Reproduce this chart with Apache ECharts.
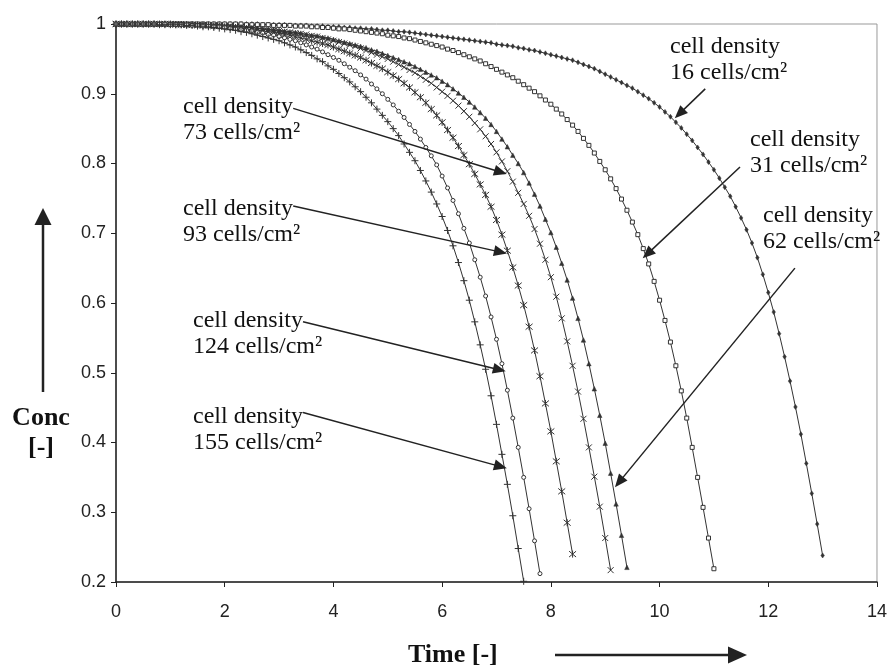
<!DOCTYPE html>
<html><head><meta charset="utf-8">
<script src="https://cdn.jsdelivr.net/npm/echarts@6/dist/echarts.min.js"></script>
<style>html,body{margin:0;padding:0;background:#fff}#c{width:890px;height:666px}</style>
</head><body><div id="c"></div>
<script>
// sampling grid of the model output (time step between successive points)
const timeStep = 0.1;

// Concentration [-], one value per time step starting at t = 0
const conc16 = [1,1,1,1,1,1,1,1,1,1,1,1,1,1,1,1,1,1,1,1,1,1,1,1,1,1,1,
0.999,0.999,0.999,0.999,
0.999,0.998,0.998,0.998,0.998,0.997,0.997,0.997,0.996,0.996,
0.996,0.995,0.995,0.994,0.994,0.993,0.993,0.992,0.991,0.991,
0.990,0.989,0.989,0.988,0.987,0.986,0.985,0.984,0.983,0.982,
0.981,0.980,0.979,0.978,0.977,0.976,0.975,0.974,0.973,0.971,
0.970,0.969,0.968,0.966,0.965,0.963,0.962,0.960,0.958,0.956,
0.954,0.952,0.950,0.948,0.945,0.942,0.939,0.936,0.932,0.928,
0.924,0.920,0.916,0.912,0.908,0.903,0.898,0.893,0.887,0.881,
0.874,0.867,0.859,0.851,0.842,0.833,0.823,0.813,0.802,0.791,
0.779,0.766,0.753,0.738,0.722,0.705,0.686,0.665,0.641,0.615,
0.587,0.556,0.523,0.488,0.451,0.412,0.370,0.327,0.283,0.238];

const conc31 = [1,1,1,1,1,1,1,1,1,1,1,1,1,1,1,1,1,1,1,1,1,1,1,1,
0.999,0.999,0.999,0.999,0.999,0.998,0.998,
0.998,0.998,0.997,0.997,0.997,0.996,0.996,0.995,0.995,0.994,
0.993,0.993,0.992,0.991,0.990,0.989,0.988,0.987,0.986,0.984,
0.983,0.982,0.980,0.979,0.977,0.975,0.973,0.971,0.969,0.967,
0.964,0.962,0.959,0.956,0.953,0.950,0.947,0.943,0.939,0.935,
0.931,0.927,0.923,0.918,0.913,0.908,0.903,0.897,0.891,0.885,
0.878,0.871,0.863,0.855,0.846,0.836,0.826,0.815,0.803,0.791,
0.778,0.764,0.749,0.733,0.716,0.698,0.678,0.656,0.631,0.604,
0.575,0.544,0.510,0.474,0.435,0.393,0.350,0.307,0.263,0.219];

const conc62 = [1,1,1,1,1,1,1,1,1,1,1,1,1,
0.999,0.999,0.999,0.999,0.998,0.998,0.998,0.997,
0.997,0.996,0.996,0.995,0.995,0.994,0.993,0.993,0.992,0.991,
0.990,0.989,0.988,0.987,0.985,0.984,0.983,0.981,0.980,0.978,
0.976,0.974,0.972,0.970,0.968,0.966,0.963,0.961,0.958,0.955,
0.952,0.949,0.946,0.943,0.939,0.935,0.931,0.927,0.923,0.918,
0.913,0.907,0.901,0.895,0.888,0.881,0.873,0.865,0.856,0.846,
0.835,0.824,0.812,0.800,0.787,0.772,0.756,0.739,0.720,0.701,
0.680,0.657,0.633,0.607,0.578,0.547,0.513,0.477,0.439,0.399,
0.356,0.312,0.267,0.221];

const conc73 = [1,1,1,1,1,1,1,1,1,1,1,1,1,
0.999,0.999,0.999,0.999,0.998,0.998,0.998,0.997,
0.997,0.996,0.996,0.995,0.995,0.994,0.993,0.992,0.991,0.990,
0.989,0.988,0.987,0.986,0.985,0.983,0.982,0.980,0.978,0.976,
0.974,0.972,0.970,0.968,0.965,0.962,0.959,0.956,0.953,0.950,
0.946,0.942,0.938,0.934,0.930,0.925,0.920,0.915,0.909,0.903,
0.897,0.890,0.883,0.875,0.867,0.858,0.849,0.839,0.828,0.816,
0.803,0.789,0.774,0.758,0.742,0.725,0.706,0.685,0.662,0.637,
0.609,0.578,0.545,0.510,0.473,0.434,0.393,0.351,0.308,0.263,
0.217];

const conc93 = [1,1,1,1,1,1,1,1,1,1,1,
0.999,0.999,0.999,0.999,0.998,0.998,0.998,0.997,0.997,0.996,
0.995,0.995,0.994,0.993,0.992,0.991,0.990,0.989,0.988,0.987,
0.985,0.984,0.982,0.980,0.978,0.976,0.974,0.972,0.970,0.967,
0.964,0.961,0.958,0.955,0.952,0.948,0.944,0.940,0.936,0.931,
0.926,0.921,0.915,0.909,0.902,0.895,0.887,0.878,0.869,0.859,
0.848,0.837,0.825,0.812,0.799,0.785,0.770,0.755,0.738,0.719,
0.698,0.675,0.651,0.625,0.597,0.566,0.532,0.495,0.456,0.416,
0.373,0.330,0.285,0.240];

const conc124 = [1,1,1,1,1,1,1,1,1,1,
0.999,0.999,0.999,0.999,0.998,0.998,0.997,0.997,0.996,0.996,0.995,
0.994,0.993,0.992,0.991,0.990,0.988,0.987,0.985,0.984,0.982,
0.980,0.978,0.976,0.973,0.970,0.967,0.964,0.960,0.956,0.952,
0.948,0.943,0.938,0.933,0.927,0.921,0.914,0.907,0.900,0.892,
0.884,0.875,0.866,0.856,0.846,0.835,0.823,0.811,0.798,0.782,
0.765,0.747,0.728,0.707,0.686,0.662,0.637,0.610,0.580,0.548,
0.513,0.475,0.435,0.393,0.350,0.305,0.259,0.212];

const conc155 = [1,1,1,1,1,1,1,1,0.999,0.999,0.999,
0.999,0.999,0.998,0.998,0.997,0.996,0.996,0.995,0.994,0.993,
0.992,0.991,0.989,0.988,0.986,0.984,0.982,0.980,0.978,0.976,
0.973,0.970,0.967,0.963,0.959,0.955,0.950,0.946,0.940,0.935,
0.929,0.923,0.917,0.910,0.903,0.895,0.887,0.878,0.869,0.860,
0.850,0.840,0.828,0.816,0.804,0.790,0.775,0.759,0.742,0.724,
0.704,0.682,0.658,0.632,0.604,0.573,0.540,0.505,0.467,0.426,
0.383,0.340,0.295,0.248,0.201];

const densities = ['16', '31', '62', '73', '93', '124', '155'];
const concSeries = [conc16, conc31, conc62, conc73, conc93, conc124, conc155];

const xTicks = {min: 0, max: 14, interval: 2};
const yTicks = {min: 0.2, max: 1, interval: 0.1};

// ---------------- styling ----------------
const ink = '#333';
const symbols = {
  '16':  {symbol: 'diamond', size: [3.5, 5], fill: ink, bw: 0.5},
  '31':  {symbol: 'rect', size: 4, fill: '#fff', bw: 1},
  '62':  {symbol: 'triangle', size: 4.5, fill: ink, bw: 0.5},
  '73':  {symbol: 'path://M0,0L10,10M10,0L0,10', size: 6, fill: ink, bw: 1},
  '93':  {symbol: 'path://M0,0L10,10M10,0L0,10M5,-1L5,11', size: 7, fill: ink, bw: 1},
  '124': {symbol: 'circle', size: 4, fill: '#fff', bw: 1},
  '155': {symbol: 'path://M5,0L5,10M0,5L10,5', size: 7, fill: ink, bw: 1}
};

const series = densities.map((d, k) => ({
  type: 'line',
  name: d,
  data: concSeries[k].map((v, i) => [Math.round(i * timeStep * 10) / 10, v]),
  symbol: symbols[d].symbol,
  symbolSize: symbols[d].size,
  showAllSymbol: true,
  lineStyle: {color: ink, width: 1},
  itemStyle: {color: symbols[d].fill, borderColor: ink, borderWidth: symbols[d].bw},
  animation: false,
  z: 3
}));

const chart = echarts.init(document.getElementById('c'), null, {renderer: 'canvas'});
chart.setOption({
  animation: false,
  grid: {left: 116, right: 13, top: 24, bottom: 84, show: true, borderColor: '#999', borderWidth: 1},
  xAxis: {
    type: 'value', min: xTicks.min, max: xTicks.max, interval: xTicks.interval,
    axisLine: {lineStyle: {color: '#222', width: 1.5}},
    axisTick: {show: true, inside: false, length: 5, lineStyle: {color: '#222'}},
    axisLabel: {fontSize: 18, color: '#222', fontFamily: 'Liberation Sans, Arial', margin: 21},
    splitLine: {show: false}
  },
  yAxis: {
    type: 'value', min: yTicks.min, max: yTicks.max, interval: yTicks.interval,
    axisLine: {show: true, lineStyle: {color: '#222', width: 1.5}},
    axisTick: {show: true, inside: false, length: 5, lineStyle: {color: '#222'}},
    axisLabel: {fontSize: 18, color: '#222', fontFamily: 'Liberation Sans, Arial', margin: 10,
      formatter: v => String(+v.toFixed(1))},
    splitLine: {show: false}
  },
  series: series
});

// ---------------- annotations ----------------
const labelText = {
  '16': 'cell density\n16 cells/cm²', '31': 'cell density\n31 cells/cm²', '62': 'cell density\n62 cells/cm²',
  '73': 'cell density\n73 cells/cm²', '93': 'cell density\n93 cells/cm²', '124': 'cell density\n124 cells/cm²',
  '155': 'cell density\n155 cells/cm²'
};
// pixel placement of the text blocks (left, top)
const labelPos = {
  '16': [670, 34], '31': [750, 127], '62': [763, 203],
  '73': [183, 94], '93': [183, 196], '124': [193, 308], '155': [193, 404]
};
// arrow [from, to] in data coordinates (time, conc)
const arrowData = {
  '16': [[10.84, 0.907], [10.28, 0.865]],
  '31': [[11.48, 0.795], [9.69, 0.664]],
  '62': [[12.49, 0.650], [9.18, 0.336]],
  '73': [[3.26, 0.879], [7.19, 0.785]],
  '93': [[3.26, 0.739], [7.19, 0.671]],
  '124': [[3.44, 0.573], [7.17, 0.502]],
  '155': [[3.44, 0.443], [7.19, 0.363]]
};

function arrowEls(p0, p1, headLen, headHalf, width) {
  const dx = p1[0] - p0[0], dy = p1[1] - p0[1];
  const L = Math.sqrt(dx * dx + dy * dy);
  const ux = dx / L, uy = dy / L;
  const bx = p1[0] - ux * headLen, by = p1[1] - uy * headLen;
  return [
    {type: 'line', shape: {x1: p0[0], y1: p0[1], x2: bx + ux, y2: by + uy},
     style: {stroke: '#222', lineWidth: width}, z: 10},
    {type: 'polygon', shape: {points: [[p1[0], p1[1]], [bx - uy * headHalf, by + ux * headHalf], [bx + uy * headHalf, by - ux * headHalf]]},
     style: {fill: '#222'}, z: 10}
  ];
}

const serifFont = '"Liberation Serif", "Times New Roman", serif';
const g = [];
densities.forEach(d => {
  const a = chart.convertToPixel({gridIndex: 0}, arrowData[d][0]);
  const b = chart.convertToPixel({gridIndex: 0}, arrowData[d][1]);
  g.push(...arrowEls(a, b, 13, 5.5, 1.5));
  g.push({type: 'text', left: labelPos[d][0], top: labelPos[d][1], z: 11,
    style: {text: labelText[d], font: '24px ' + serifFont, fill: '#111', lineHeight: 26}});
});
// axis titles with their direction arrows
g.push(...arrowEls([43, 392], [43, 208], 17, 8.5, 2.5));
g.push(...arrowEls([555, 655], [747, 655], 19, 8.5, 2.5));
g.push({type: 'text', x: 41, y: 418, z: 11,
  style: {text: 'Conc', font: 'bold 26px ' + serifFont, fill: '#111', align: 'center', verticalAlign: 'middle'}});
g.push({type: 'text', x: 41, y: 448, z: 11,
  style: {text: '[-]', font: 'bold 26px ' + serifFont, fill: '#111', align: 'center', verticalAlign: 'middle'}});
g.push({type: 'text', x: 408, y: 655, z: 11,
  style: {text: 'Time [-]', font: 'bold 26px ' + serifFont, fill: '#111', align: 'left', verticalAlign: 'middle'}});
chart.setOption({graphic: g});
</script></body></html>
